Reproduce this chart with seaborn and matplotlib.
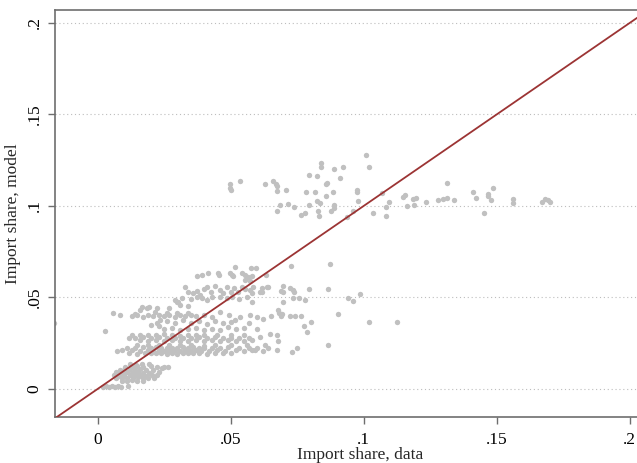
import matplotlib
matplotlib.use("Agg")
import matplotlib.pyplot as plt
import pandas as pd
import seaborn as sns

# Import shares: observed (data) vs. predicted (model), grouped by region of the plot
bottom_pts = [(0.0020, 0.0012), (0.0032, 0.0016), (0.0043, 0.0011), (0.0054, 0.0015),
              (0.0065, 0.0012), (0.0076, 0.0016), (0.0087, 0.0013), (0.0113, 0.0014)]

low_pts = [
    (0.0090, 0.0045), (0.0110, 0.0042), (0.0130, 0.0047), (0.0150, 0.0044), (0.0170, 0.0046),
    (0.0070, 0.0061), (0.0092, 0.0058), (0.0111, 0.0062), (0.0133, 0.0059), (0.0151, 0.0063),
    (0.0172, 0.0060), (0.0190, 0.0058), (0.0212, 0.0062),
    (0.0062, 0.0076), (0.0081, 0.0073), (0.0100, 0.0077), (0.0121, 0.0074), (0.0141, 0.0078),
    (0.0160, 0.0075), (0.0182, 0.0072), (0.0203, 0.0077), (0.0224, 0.0074),
    (0.0071, 0.0091), (0.0090, 0.0088), (0.0112, 0.0092), (0.0130, 0.0089), (0.0152, 0.0093),
    (0.0171, 0.0090), (0.0193, 0.0087), (0.0232, 0.0092),
    (0.0083, 0.0106), (0.0101, 0.0103), (0.0122, 0.0107), (0.0142, 0.0104), (0.0161, 0.0108),
    (0.0183, 0.0105), (0.0210, 0.0102), (0.0241, 0.0113),
    (0.0102, 0.0121), (0.0131, 0.0118), (0.0150, 0.0123), (0.0172, 0.0120), (0.0201, 0.0124),
    (0.0223, 0.0122), (0.0250, 0.0119), (0.0266, 0.0122),
    (0.0121, 0.0136), (0.0143, 0.0133), (0.0168, 0.0137), (0.0192, 0.0134),
]

band_020 = [
    (0.0072, 0.0210), (0.0091, 0.0213),
    (0.0120, 0.0196), (0.0150, 0.0193), (0.0180, 0.0197), (0.0200, 0.0194), (0.0220, 0.0198),
    (0.0240, 0.0195), (0.0260, 0.0192), (0.0280, 0.0196), (0.0300, 0.0193), (0.0320, 0.0197),
    (0.0340, 0.0194), (0.0360, 0.0198), (0.0380, 0.0195), (0.0410, 0.0192), (0.0440, 0.0196),
    (0.0470, 0.0194), (0.0500, 0.0197),
    (0.0130, 0.0211), (0.0160, 0.0208), (0.0190, 0.0212), (0.0210, 0.0209), (0.0230, 0.0213),
    (0.0250, 0.0210), (0.0270, 0.0207), (0.0290, 0.0211), (0.0310, 0.0208), (0.0330, 0.0212),
    (0.0350, 0.0209), (0.0370, 0.0213), (0.0390, 0.0210), (0.0420, 0.0207), (0.0450, 0.0211),
    (0.0480, 0.0209), (0.0520, 0.0212), (0.0550, 0.0208), (0.0580, 0.0211), (0.0620, 0.0209),
    (0.0110, 0.0226), (0.0140, 0.0223), (0.0170, 0.0227), (0.0200, 0.0224), (0.0220, 0.0228),
    (0.0240, 0.0225), (0.0260, 0.0222), (0.0280, 0.0226), (0.0300, 0.0223), (0.0320, 0.0227),
    (0.0340, 0.0224), (0.0360, 0.0228), (0.0380, 0.0225), (0.0400, 0.0222), (0.0430, 0.0226),
    (0.0460, 0.0223), (0.0490, 0.0227), (0.0530, 0.0224), (0.0570, 0.0226), (0.0600, 0.0223),
    (0.0640, 0.0225),
    (0.0150, 0.0241), (0.0190, 0.0238), (0.0230, 0.0242), (0.0270, 0.0239), (0.0310, 0.0243),
    (0.0350, 0.0240), (0.0400, 0.0237), (0.0440, 0.0241), (0.0500, 0.0238), (0.0560, 0.0242),
    (0.0590, 0.0212), (0.0630, 0.0240), (0.0730, 0.0200), (0.0750, 0.0222),
]

band_028 = [
    (0.0160, 0.0266), (0.0190, 0.0263), (0.0220, 0.0267), (0.0250, 0.0264), (0.0280, 0.0268),
    (0.0310, 0.0265), (0.0340, 0.0262), (0.0370, 0.0266), (0.0400, 0.0263), (0.0430, 0.0267),
    (0.0460, 0.0264), (0.0490, 0.0268), (0.0520, 0.0265), (0.0550, 0.0262), (0.0580, 0.0266),
    (0.0680, 0.0260),
    (0.0120, 0.0281), (0.0140, 0.0278), (0.0170, 0.0282), (0.0200, 0.0279), (0.0230, 0.0283),
    (0.0260, 0.0280), (0.0290, 0.0277), (0.0320, 0.0281), (0.0350, 0.0278), (0.0380, 0.0282),
    (0.0410, 0.0279), (0.0440, 0.0283), (0.0470, 0.0280), (0.0500, 0.0277), (0.0530, 0.0281),
    (0.0570, 0.0279), (0.0610, 0.0282),
    (0.0130, 0.0296), (0.0160, 0.0293), (0.0190, 0.0297), (0.0220, 0.0294), (0.0250, 0.0298),
    (0.0280, 0.0295), (0.0310, 0.0292), (0.0340, 0.0296), (0.0370, 0.0293), (0.0400, 0.0297),
    (0.0450, 0.0294), (0.0500, 0.0297), (0.0550, 0.0293), (0.0650, 0.0300),
]

band_035 = [
    (0.0250, 0.0330), (0.0280, 0.0335), (0.0310, 0.0325), (0.0340, 0.0330), (0.0370, 0.0335),
    (0.0400, 0.0320), (0.0430, 0.0330), (0.0460, 0.0325), (0.0490, 0.0340), (0.0520, 0.0330),
    (0.0550, 0.0335), (0.0600, 0.0330),
    (0.0222, 0.0359), (0.0235, 0.0377), (0.0260, 0.0370), (0.0290, 0.0360), (0.0320, 0.0375),
    (0.0350, 0.0360), (0.0380, 0.0370), (0.0410, 0.0355), (0.0440, 0.0370), (0.0470, 0.0360),
    (0.0500, 0.0365), (0.0570, 0.0360), (0.0620, 0.0380), (0.0200, 0.0350), (0.0230, 0.0345),
]

band_040 = [
    (0.0130, 0.0398), (0.0150, 0.0402), (0.0170, 0.0396), (0.0190, 0.0403), (0.0210, 0.0399),
    (0.0230, 0.0405), (0.0250, 0.0397), (0.0270, 0.0402), (0.0290, 0.0396), (0.0310, 0.0403),
    (0.0330, 0.0399), (0.0350, 0.0404), (0.0370, 0.0398), (0.0400, 0.0402), (0.0430, 0.0396),
    (0.0140, 0.0412), (0.0160, 0.0432), (0.0185, 0.0441), (0.0216, 0.0423), (0.0260, 0.0415),
    (0.0300, 0.0418), (0.0340, 0.0413),
    (0.0059, 0.0414), (0.0085, 0.0404), (0.0028, 0.0319), (-0.0163, 0.0361),
    (0.0460, 0.0423), (0.0494, 0.0404), (0.0517, 0.0377), (0.0536, 0.0395), (0.0573, 0.0404),
    (0.0598, 0.0395),
]

upper_core = [
    (0.0517, 0.0668), (0.0577, 0.0660), (0.0596, 0.0660),
    (0.0373, 0.0617), (0.0392, 0.0623), (0.0417, 0.0632), (0.0454, 0.0636), (0.0458, 0.0625),
    (0.0498, 0.0636), (0.0504, 0.0625), (0.0510, 0.0617), (0.0542, 0.0636), (0.0555, 0.0623),
    (0.0567, 0.0614), (0.0580, 0.0617), (0.0555, 0.0596), (0.0573, 0.0588),
    (0.0329, 0.0559), (0.0341, 0.0532), (0.0360, 0.0523), (0.0373, 0.0537), (0.0385, 0.0514),
    (0.0410, 0.0559), (0.0442, 0.0563), (0.0460, 0.0541), (0.0473, 0.0523), (0.0486, 0.0559),
    (0.0511, 0.0550), (0.0529, 0.0532), (0.0542, 0.0559), (0.0555, 0.0545), (0.0573, 0.0541),
    (0.0586, 0.0559), (0.0580, 0.0523), (0.0611, 0.0532), (0.0642, 0.0559), (0.0400, 0.0545),
    (0.0425, 0.0530), (0.0500, 0.0530),
    (0.0291, 0.0486), (0.0304, 0.0477), (0.0317, 0.0496), (0.0373, 0.0504), (0.0392, 0.0496),
    (0.0410, 0.0486), (0.0460, 0.0504), (0.0486, 0.0496), (0.0504, 0.0504), (0.0580, 0.0477),
    (0.0350, 0.0490), (0.0430, 0.0500), (0.0530, 0.0490), (0.0560, 0.0500),
    (0.0166, 0.0447), (0.0195, 0.0450), (0.0298, 0.0477), (0.0310, 0.0459), (0.0225, 0.0440),
    (0.0270, 0.0445), (0.0340, 0.0455),
]

mid_pts = [
    (0.0633, 0.0623), (0.0726, 0.0674), (0.0874, 0.0683), (0.0617, 0.0554), (0.0617, 0.0528),
    (0.0638, 0.0557), (0.0689, 0.0536), (0.0696, 0.0564), (0.0698, 0.0528), (0.0724, 0.0550),
    (0.0734, 0.0543), (0.0739, 0.0528), (0.0796, 0.0546), (0.0868, 0.0546), (0.0736, 0.0496),
    (0.0756, 0.0496), (0.0779, 0.0488), (0.0698, 0.0477), (0.0942, 0.0496), (0.0962, 0.0481),
    (0.0987, 0.0517), (0.0680, 0.0432), (0.0683, 0.0417), (0.0689, 0.0400), (0.0692, 0.0411),
    (0.0653, 0.0397), (0.0724, 0.0400), (0.0741, 0.0397), (0.0764, 0.0400), (0.0902, 0.0408),
    (0.0803, 0.0368), (0.0777, 0.0342), (0.0789, 0.0313), (0.0676, 0.0295), (0.0676, 0.0215),
    (0.0868, 0.0240), (0.1020, 0.0366), (0.1126, 0.0366),
]

upper_pts = [
    (0.0496, 0.1120), (0.0496, 0.1100), (0.0500, 0.1090), (0.0536, 0.1135), (0.0630, 0.1120),
    (0.0660, 0.1135), (0.0670, 0.1120), (0.0676, 0.1110), (0.0676, 0.1080), (0.0710, 0.1090),
    (0.0676, 0.0970), (0.0686, 0.1004), (0.0714, 0.1010), (0.0739, 0.0993), (0.0766, 0.0950),
    (0.0780, 0.0963), (0.0784, 0.1075), (0.0796, 0.1168), (0.0816, 0.1078), (0.0824, 0.1164),
    (0.0839, 0.1237), (0.0839, 0.1211), (0.0824, 0.1029), (0.0836, 0.1015), (0.0796, 0.1005),
    (0.0830, 0.0974), (0.0833, 0.0945), (0.0859, 0.1120), (0.0864, 0.1124), (0.0859, 0.1055),
    (0.0884, 0.1075), (0.0890, 0.1200), (0.0922, 0.1215), (0.0912, 0.1155), (0.0887, 0.1005),
    (0.0889, 0.0990), (0.0877, 0.0970), (0.0937, 0.0942), (0.0962, 0.0973), (0.0974, 0.1087),
    (0.0974, 0.1075), (0.0978, 0.1027), (0.1010, 0.1277), (0.1022, 0.1211), (0.1037, 0.0960),
    (0.1068, 0.1069), (0.1085, 0.0996), (0.1085, 0.0945), (0.1097, 0.1024), (0.1150, 0.1051),
    (0.1156, 0.1060), (0.1162, 0.1000), (0.1185, 0.1036), (0.1197, 0.1042), (0.1190, 0.1004),
    (0.1235, 0.1024), (0.1280, 0.1033), (0.1298, 0.1040), (0.1313, 0.1042), (0.1313, 0.1124),
    (0.1338, 0.1033), (0.1410, 0.1075), (0.1423, 0.1042), (0.1453, 0.0960), (0.1467, 0.1066),
    (0.1469, 0.1055), (0.1479, 0.1033), (0.1486, 0.1098), (0.1560, 0.1036), (0.1560, 0.1015),
    (0.1670, 0.1022), (0.1682, 0.1036), (0.1695, 0.1033), (0.1701, 0.1024),
]

tick_values = [0, 0.05, 0.1, 0.15, 0.2]
tick_labels = ["0", ".05", ".1", ".15", ".2"]

groups = [bottom_pts, low_pts, band_020, band_028, band_035, band_040,
          upper_core, mid_pts, upper_pts]
df = pd.DataFrame([p for g in groups for p in g], columns=["data", "model"])

sns.set_style("white")
plt.rcParams["font.family"] = ["Liberation Serif", "DejaVu Serif"]

fig = plt.figure(figsize=(6.37, 4.63), dpi=100)
ax = fig.add_axes([55 / 637, 46 / 463, 610 / 637, 407 / 463])

sns.scatterplot(data=df, x="data", y="model", color="#c0c0c0", s=15,
                linewidth=0, ax=ax, zorder=2)
ax.axline((0, 0), (0.1, 0.1), color="#9c3434", linewidth=1.3, zorder=3)

ax.set_xlim(-0.016, 0.2133)
ax.set_ylim(-0.0153, 0.2071)

ax.set_xticks(tick_values)
ax.set_xticklabels(tick_labels)
ax.set_yticks(tick_values)
ax.set_yticklabels(tick_labels, rotation=90, va="center")

ax.yaxis.grid(True, color="#bdbdbd", linestyle=(0, (1, 2.5)), linewidth=0.8)
ax.xaxis.grid(False)
ax.set_axisbelow(True)

spine_col = "#6e6e6e"
for side in ["left", "bottom", "top"]:
    ax.spines[side].set_color(spine_col)
    ax.spines[side].set_linewidth(1.2)
ax.spines["right"].set_visible(False)

ax.tick_params(axis="both", which="major", bottom=True, left=True, top=False, right=False,
               direction="out", length=5, width=1, color=spine_col,
               labelsize=12.5, labelcolor="black", pad=4)
ax.tick_params(axis="x", pad=6)

ax.set_xlabel("Import share, data", fontsize=12.5, labelpad=-1)
ax.set_ylabel("Import share, model", fontsize=12.5, labelpad=4)

fig.savefig("out.png", dpi=100)
